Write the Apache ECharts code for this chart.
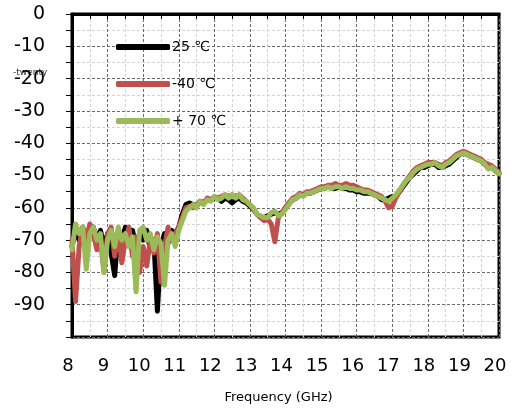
<!DOCTYPE html>
<html>
<head>
<meta charset="utf-8">
<script src="https://cdn.jsdelivr.net/npm/echarts@6/dist/echarts.min.js"></script>
<style>
  html, body { margin: 0; padding: 0; background: #fff; }
  #chart { width: 511px; height: 409px; }
</style>
</head>
<body>
<div id="chart"></div>
<script>
// Sweep frequencies (GHz)
var freq = [
  8.0, 8.1, 8.2, 8.3, 8.4, 8.5, 8.6, 8.7, 8.8, 8.9,
  9.0, 9.1, 9.2, 9.3, 9.4, 9.5, 9.6, 9.7, 9.8, 9.9,
  10.0, 10.1, 10.2, 10.3, 10.4, 10.5, 10.6, 10.7, 10.8, 10.9,
  11.0, 11.1, 11.2, 11.3, 11.4, 11.5, 11.6, 11.7, 11.8, 11.9,
  12.0, 12.1, 12.2, 12.3, 12.4, 12.5, 12.6, 12.7, 12.8, 12.9,
  13.0, 13.1, 13.2, 13.3, 13.4, 13.5, 13.6, 13.7, 13.8, 13.9,
  14.0, 14.1, 14.2, 14.3, 14.4, 14.5, 14.6, 14.7, 14.8, 14.9,
  15.0, 15.1, 15.2, 15.3, 15.4, 15.5, 15.6, 15.7, 15.8, 15.9,
  16.0, 16.1, 16.2, 16.3, 16.4, 16.5, 16.6, 16.7, 16.8, 16.9,
  17.0, 17.1, 17.2, 17.3, 17.4, 17.5, 17.6, 17.7, 17.8, 17.9,
  18.0, 18.1, 18.2, 18.3, 18.4, 18.5, 18.6, 18.7, 18.8, 18.9,
  19.0, 19.1, 19.2, 19.3, 19.4, 19.5, 19.6, 19.7, 19.8, 19.9,
  20.0
];

// Measured level (dB) at 25 °C
var t25 = [
  -72, -67, -70, -66, -72, -68, -66, -70, -67, -72,
  -68, -74, -81, -67, -70, -66, -69, -67, -72, -68,
  -70, -67, -73, -70, -92, -72, -68, -71, -67, -68,
  -66, -62, -59, -58.5, -59, -59.5, -58, -58.5, -57.5, -57.5,
  -57, -57, -58, -57, -57.5, -58.5, -57.5, -57, -58, -58.5,
  -59.5, -60.5, -62, -63, -63, -62.5, -62, -61.5, -62, -61.5,
  -60, -58.5, -57.5, -57, -56, -56, -55.5, -55.5, -55, -54.5,
  -54, -54, -53.5, -54, -54, -53.5, -54, -54, -54.5, -54.5,
  -55, -55, -55.5, -55.5, -55.5, -56, -56.5, -57.5, -57.5, -57,
  -56.5, -56.5, -55, -53.5, -52, -50.5, -49.5, -48.5, -47.5, -47.5,
  -47, -46.5, -46.5, -47.5, -47.5, -47, -46.5, -45.5, -44.5, -43.5,
  -43, -43.5, -44, -44.5, -45, -45.5, -46.5, -47.5, -47.5, -48.5,
  -49.5
];

// Measured level (dB) at -40 °C
var tm40 = [
  -70, -89, -72, -66, -70, -65, -68, -73, -70, -80,
  -68, -66, -75, -67, -77, -70, -66, -75, -69, -80,
  -72, -78, -70, -74, -68, -83, -72, -66, -70, -68,
  -66, -63, -60, -59.5, -60, -59, -58, -58.5, -57, -57.5,
  -56.5, -57, -56.5, -56, -56.5, -56, -56.5, -56, -57, -58,
  -59, -60.5, -62, -63, -64, -63.5, -65, -70.5, -63, -61.5,
  -60, -58.5, -57, -56.5, -55.5, -56, -55, -55, -54.5, -54,
  -53.5, -53.5, -53, -53, -52.5, -53, -53, -52.5, -53, -53,
  -53.5, -54, -54.5, -54.5, -55, -55.5, -56, -56.5, -58, -60,
  -59.5, -57, -55, -53, -51.5, -50, -48.5, -47.5, -47, -46.5,
  -46, -46, -46, -46.5, -47, -46, -45.5, -44.5, -43.5, -43,
  -42.5, -43, -43.5, -44, -44.5, -45, -46, -46.5, -47, -48,
  -49
];

// Measured level (dB) at +70 °C
var tp70 = [
  -73, -65, -68, -66, -79, -68, -66, -70, -68, -80,
  -70, -67, -72, -66, -70, -68, -72, -69, -86, -67,
  -66, -70, -68, -73, -69, -71, -84, -70, -68, -72,
  -67, -64, -61, -60, -59, -60, -58, -59, -57.5, -58,
  -56.5, -57.5, -57, -56, -57, -56, -57, -56, -57.5, -58,
  -59, -60, -62, -62.5, -63, -63, -61.5, -61, -62.5, -62,
  -60.5, -59, -57.5, -57, -56, -56.5, -55.5, -55.5, -55, -54.5,
  -54, -54, -53.5, -54, -53.5, -53.5, -54, -53.5, -54, -54,
  -54.5, -54.5, -55, -55, -55.5, -56, -56.5, -57, -57.5, -58,
  -57, -56, -54.5, -53, -51.5, -50.5, -49, -48, -47.5, -47,
  -46.5, -46.5, -46, -47, -47.5, -46.5, -46, -45, -44, -43.5,
  -43, -43.5, -44, -44.5, -45, -45.5, -46.5, -48, -47.5, -48.5,
  -49.5
];

var seriesNames = ['25 \u2103', '-40 \u2103', '+ 70 \u2103'];
var seriesColors = ['#000000', '#c0504d', '#9bbb59'];
var seriesValues = [t25, tm40, tp70];

function pairs(values) {
  return freq.map(function (f, i) { return [f, values[i]]; });
}

var chart = echarts.init(document.getElementById('chart'));
var font = 'DejaVu Sans, Verdana, sans-serif';

chart.setOption({
  animation: false,
  backgroundColor: '#ffffff',
  grid: {
    left: 72, right: 12, top: 14, bottom: 72,
    show: true, borderColor: '#000', borderWidth: 3, backgroundColor: 'transparent'
  },
  legend: {
    orient: 'vertical',
    left: 116, top: 40, padding: 0,
    itemWidth: 54, itemHeight: 6, itemGap: 23,
    icon: 'roundRect',
    textStyle: { fontFamily: font, fontSize: 14, color: '#000', padding: [0, 0, 0, -3] },
    data: seriesNames
  },
  graphic: [{
    type: 'text', left: 13, top: 68,
    style: { text: '-twenty', fontFamily: font, fontSize: 9, fill: '#333' }
  }],
  xAxis: {
    type: 'value', min: 8, max: 20, interval: 0.5,
    name: 'Frequency (GHz)', nameLocation: 'middle', nameGap: 54,
    nameTextStyle: { fontFamily: font, fontSize: 13, color: '#000', padding: [0, 14, 0, 0] },
    axisLine: { show: true, lineStyle: { color: '#000', width: 3 } },
    axisTick: { show: true, length: 5, lineStyle: { color: '#000', width: 1 } },
    axisLabel: {
      fontFamily: font, fontSize: 18, color: '#000', margin: 20,
      padding: [0, 8, 0, 0],
      formatter: function (v) { return Number.isInteger(v) ? String(v) : ''; }
    },
    splitLine: { show: true, lineStyle: { color: ['#6a6a6a', '#d4d4d4'], type: [3, 2], width: 1 } }
  },
  yAxis: {
    type: 'value', min: -100, max: 0, interval: 5,
    axisLine: { show: true, lineStyle: { color: '#000', width: 3 } },
    axisTick: { show: true, length: 6, lineStyle: { color: '#000', width: 1 } },
    axisLabel: {
      fontFamily: font, fontSize: 19, color: '#000', margin: 27,
      padding: [6, 0, 0, 0],
      formatter: function (v) { return (v % 10 === 0 && v > -100) ? String(v) : ''; }
    },
    splitLine: { show: true, lineStyle: { color: ['#6a6a6a', '#d4d4d4'], type: [3, 2], width: 1 } }
  },
  series: seriesNames.map(function (name, k) {
    return {
      name: name, type: 'line', data: pairs(seriesValues[k]),
      showSymbol: false, symbol: 'none', smooth: false,
      color: seriesColors[k],
      lineStyle: { color: seriesColors[k], width: 5, cap: 'round', join: 'round' },
      z: 2 + k
    };
  })
});
</script>
</body>
</html>
